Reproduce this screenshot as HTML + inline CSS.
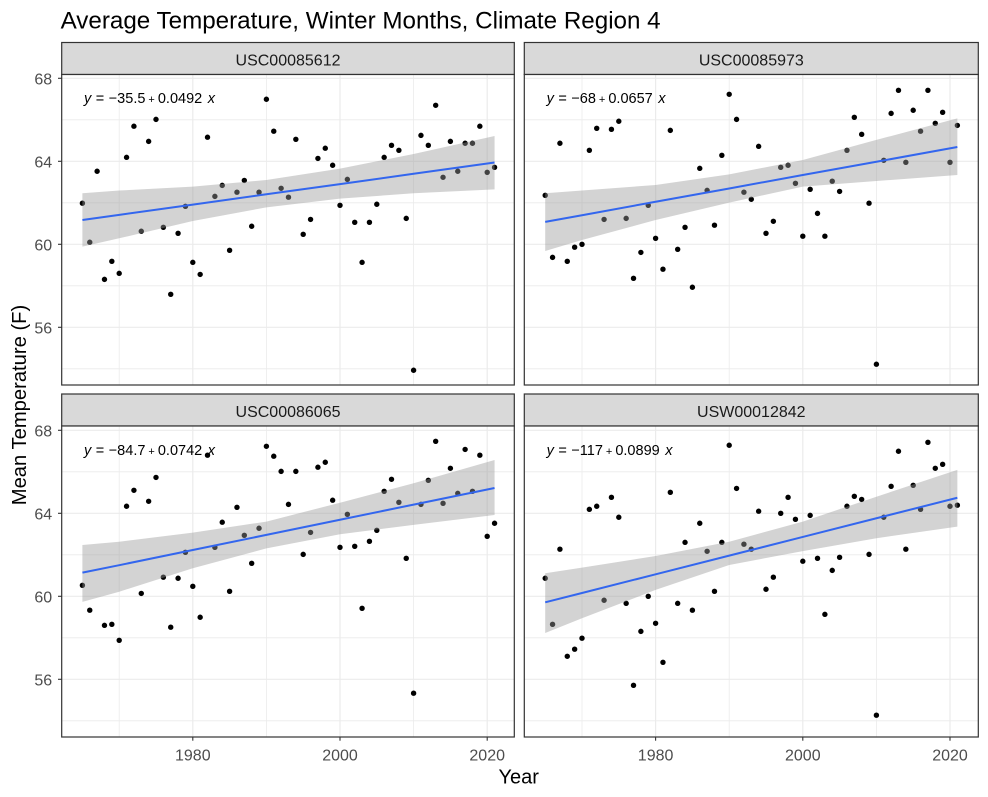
<!DOCTYPE html>
<html lang="en">
<head>
<meta charset="utf-8">
<title>Average Temperature, Winter Months, Climate Region 4</title>
<style>
html,body{margin:0;padding:0;background:#fff;width:988px;height:797px;overflow:hidden}
svg{display:block;font-family:"Liberation Sans",Arial,sans-serif}
</style>
</head>
<body>
<svg id="chart" xmlns="http://www.w3.org/2000/svg" width="988" height="797" viewBox="0 0 988 797">
<rect x="0" y="0" width="988" height="797" fill="#fff"/>
<text x="60.6" y="28.6" font-size="24.2" fill="#000">Average Temperature, Winter Months, Climate Region 4</text>
<text transform="translate(26,405) rotate(-90)" text-anchor="middle" font-size="20.2" fill="#000">Mean Temperature (F)</text>
<text x="518.7" y="783.3" text-anchor="middle" font-size="20" fill="#000">Year</text>
</svg>
<script>
const years = [1965,1966,1967,1968,1969,
1970,1971,1972,1973,1974,1975,1976,1977,1978,1979,
1980,1981,1982,1983,1984,1985,1986,1987,1988,1989,
1990,1991,1992,1993,1994,1995,1996,1997,1998,1999,
2000,2001,2002,2003,2004,2005,2006,2007,2008,2009,
2010,2011,2012,2013,2014,2015,2016,2017,2018,2019,2020,2021];

const stationNames = ["USC00085612","USC00085973","USC00086065","USW00012842"];

const tempsA = [61.98,60.10,63.52,58.31,59.18,
58.60,64.19,65.69,60.63,64.96,66.02,60.82,57.59,60.53,61.83,
59.13,58.55,65.16,62.31,62.84,59.71,62.51,63.08,60.87,62.51,
66.99,65.45,62.70,62.27,65.06,60.48,61.20,64.14,64.63,63.81,
61.88,63.13,61.06,59.13,61.06,61.93,64.19,64.77,64.53,61.25,
53.93,65.25,64.77,66.70,63.23,64.96,63.52,64.87,64.87,65.69,63.47,63.71];

const tempsB = [62.36,59.37,64.87,59.18,59.86,
60.00,64.53,65.59,61.20,65.54,65.93,61.25,58.36,59.61,61.88,
60.29,58.80,65.49,59.76,60.82,57.93,63.66,62.60,60.92,64.29,
67.23,66.02,62.51,62.17,64.72,60.53,61.11,63.71,63.81,62.94,
60.39,62.65,61.49,60.39,63.04,62.55,64.53,66.12,65.30,61.98,
54.22,64.05,66.31,67.42,63.95,66.46,65.45,67.42,65.83,66.36,63.95,65.73];

const tempsC = [60.53,59.33,null,58.60,58.65,
57.88,64.34,65.11,60.14,64.58,65.73,60.92,58.51,60.87,62.12,
60.48,58.99,66.80,62.36,63.57,60.24,64.29,62.94,61.59,63.28,
67.23,66.75,66.02,64.43,66.02,62.02,63.08,66.22,66.46,64.63,
62.36,63.95,62.41,59.42,62.65,63.18,65.06,65.64,64.53,61.83,
55.33,64.43,65.59,67.47,64.48,66.17,64.96,67.08,65.06,66.80,62.89,63.52];

const tempsD = [60.87,58.65,62.27,57.11,57.45,
57.98,64.19,64.34,59.81,64.77,63.81,59.66,55.71,58.31,60.00,
58.70,56.82,65.01,59.66,62.60,59.33,63.52,62.17,60.24,62.60,
67.28,65.20,62.51,62.27,64.10,60.34,60.92,64.00,64.77,63.71,
61.69,63.90,61.83,59.13,61.25,61.88,64.34,64.82,64.67,62.02,
54.27,63.81,65.30,66.99,62.27,65.35,64.19,67.42,66.17,66.36,64.34,64.39];

const fitYears = [1965,1970,1980,1990,2000,2010,2021];

const fitA = [61.17,61.42,61.91,62.41,62.90,63.40,63.94];
const upperA = [62.46,62.59,62.78,63.10,63.65,64.35,65.22];
const lowerA = [59.89,60.29,61.12,61.78,62.20,62.46,62.65];

const fitB = [61.08,61.40,62.05,62.69,63.34,63.98,64.69];
const upperB = [62.46,62.59,62.86,63.37,64.06,65.03,66.07];
const lowerB = [59.68,60.21,61.17,62.01,62.78,63.05,63.34];

const fitC = [61.14,61.50,62.23,62.96,63.69,64.42,65.22];
const upperC = [62.47,62.63,63.07,63.60,64.51,65.45,66.57];
const lowerC = [59.73,60.22,61.35,62.31,62.99,63.44,63.92];

const fitD = [59.71,60.16,61.06,61.96,62.86,63.76,64.75];
const upperD = [61.11,61.38,61.94,62.63,63.60,64.80,66.09];
const lowerD = [58.23,58.94,60.31,61.51,62.18,62.80,63.36];

const equationIntercepts = ["−35.5","−68","−84.7","−117"];
const equationSlopes = ["0.0492","0.0657","0.0742","0.0899"];

const xMajorTicks = [1980,2000,2020];
const xMinorTicks = [1970,1990,2010];
const yMajorTicks = [68,64,60,56];
const yMinorTicks = [66,62,58,54];

const allTemps = [tempsA,tempsB,tempsC,tempsD];
const allFits = [fitA,fitB,fitC,fitD];
const allUppers = [upperA,upperB,upperC,upperD];
const allLowers = [lowerA,lowerB,lowerC,lowerD];

const SVG_NS = 'http://www.w3.org/2000/svg';
const svg = document.getElementById('chart');
const columns = [{left:61.7,right:514.3,x1980:192.8},{left:524.3,right:978.3,x1980:655.6}];
const rows = [{stripTop:42.5,top:74.5,bottom:385,y68:78.3,eqY:103},{stripTop:394,top:426,bottom:737,y68:430.3,eqY:455}];
const PX_PER_YEAR = 7.36;
const PX_PER_DEG = 20.75;

function make(tag, attrs, parent) {
  const el = document.createElementNS(SVG_NS, tag);
  for (const k in attrs) el.setAttribute(k, attrs[k]);
  parent.appendChild(el);
  return el;
}

stationNames.forEach(function (station, i) {
  const col = columns[i % 2];
  const row = rows[Math.floor(i / 2)];
  const isBottom = i >= 2;
  const isLeft = i % 2 === 0;
  const xScale = function (yr) { return col.x1980 + (yr - 1980) * PX_PER_YEAR; };
  const yScale = function (v) { return row.y68 + (68 - v) * PX_PER_DEG; };

  const panel = make('g', {}, svg);
  
  

  const strip = make('rect', {x:col.left, y:row.stripTop, width:col.right-col.left, height:row.top-row.stripTop, fill:'#d9d9d9', stroke:'#333333', 'stroke-width':1.2}, panel);
  
  

  const stripLabel = make('text', {x:(col.left+col.right)/2, y:row.stripTop+23, 'text-anchor':'middle', 'font-size':16, fill:'#1a1a1a'}, panel);
  stripLabel.textContent = station;
  
  

  const bg = make('rect', {x:col.left, y:row.top, width:col.right-col.left, height:row.bottom-row.top, fill:'#fff'}, panel);
  
  

  yMinorTicks.forEach(function (t) {
    const g = make('line', {x1:col.left, x2:col.right, y1:yScale(t), y2:yScale(t), stroke:'#ebebeb', 'stroke-width':0.8}, panel);
    
    
  });
  xMinorTicks.forEach(function (t) {
    const g = make('line', {x1:xScale(t), x2:xScale(t), y1:row.top, y2:row.bottom, stroke:'#ebebeb', 'stroke-width':0.8}, panel);
    
    
  });
  yMajorTicks.forEach(function (t) {
    const g = make('line', {x1:col.left, x2:col.right, y1:yScale(t), y2:yScale(t), stroke:'#ebebeb', 'stroke-width':1.2}, panel);
    
    
  });
  xMajorTicks.forEach(function (t) {
    const g = make('line', {x1:xScale(t), x2:xScale(t), y1:row.top, y2:row.bottom, stroke:'#ebebeb', 'stroke-width':1.2}, panel);
    
    
  });

  allTemps[i].forEach(function (v, j) {
    if (v === null) return;
    const pt = make('circle', {cx:xScale(years[j]), cy:yScale(v), r:2.7, fill:'#000'}, panel);
    
    
  });

  const upperPts = fitYears.map(function (yr, j) { return xScale(yr) + ',' + yScale(allUppers[i][j]); });
  const lowerPts = fitYears.map(function (yr, j) { return xScale(yr) + ',' + yScale(allLowers[i][j]); }).reverse();
  const ribbon = make('polygon', {points:upperPts.concat(lowerPts).join(' '), fill:'#999999', 'fill-opacity':0.43}, panel);
  
  

  const linePts = fitYears.map(function (yr, j) { return xScale(yr) + ',' + yScale(allFits[i][j]); }).join(' ');
  const fit = make('polyline', {points:linePts, fill:'none', stroke:'#3366ee', 'stroke-width':2}, panel);
  
  

  const eq = make('text', {x:col.left+22.3, y:row.eqY, 'font-size':14.5, fill:'#000'}, panel);
  
  
  const ey = make('tspan', {'font-style':'italic'}, eq);
  ey.textContent = 'y';
  const eq2 = make('tspan', {dx:4.5}, eq);
  eq2.textContent = '=';
  const em = make('tspan', {dx:4.5}, eq);
  em.textContent = equationIntercepts[i];
  const ep = make('tspan', {'font-size':11, dx:3}, eq);
  ep.textContent = '+';
  const es = make('tspan', {dx:3}, eq);
  es.textContent = equationSlopes[i];
  const ex = make('tspan', {'font-style':'italic', dx:5.5}, eq);
  ex.textContent = 'x';

  const border = make('rect', {x:col.left, y:row.top, width:col.right-col.left, height:row.bottom-row.top, fill:'none', stroke:'#333333', 'stroke-width':1.2}, panel);
  
  

  if (isLeft) {
    yMajorTicks.forEach(function (t) {
      const tick = make('line', {x1:col.left-3.7, x2:col.left, y1:yScale(t), y2:yScale(t), stroke:'#333333', 'stroke-width':1.1}, panel);
      
      
      const lbl = make('text', {x:col.left-9.5, y:yScale(t)+6, 'text-anchor':'end', 'font-size':16, fill:'#4d4d4d'}, panel);
      lbl.textContent = t;
      
      
    });
  }
  if (isBottom) {
    xMajorTicks.forEach(function (t) {
      const tick = make('line', {x1:xScale(t), x2:xScale(t), y1:row.bottom, y2:row.bottom+3.7, stroke:'#333333', 'stroke-width':1.1}, panel);
      
      
      const lbl = make('text', {x:xScale(t), y:row.bottom+23.7, 'text-anchor':'middle', 'font-size':16, fill:'#4d4d4d'}, panel);
      lbl.textContent = t;
      
      
    });
  }
});
</script>
</body>
</html>
